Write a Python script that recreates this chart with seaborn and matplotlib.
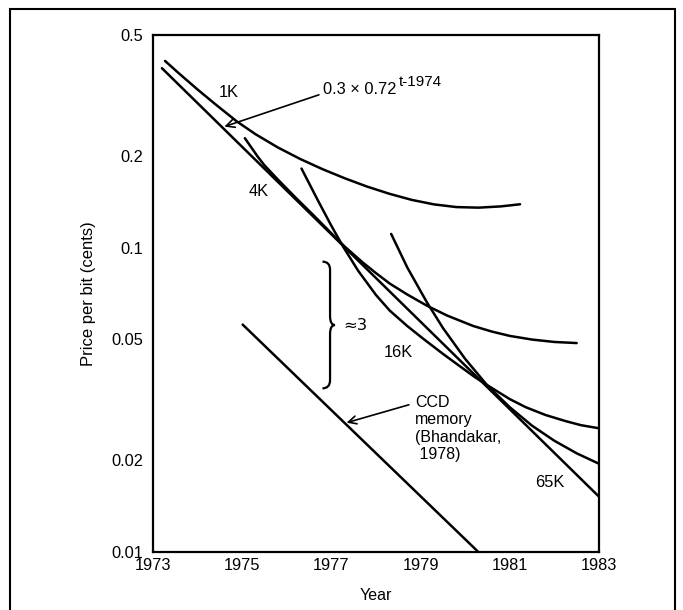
import matplotlib
matplotlib.use("Agg")
import matplotlib.pyplot as plt
import seaborn as sns
import pandas as pd
from matplotlib.path import Path
from matplotlib.patches import PathPatch, Rectangle
from matplotlib.ticker import NullLocator

# values (year, price per bit in cents)
trend_years = [1973.2, 1983.0]
trend_price = [0.389, 0.0152]

k1_years = [1973.27, 1973.6, 1974.0, 1974.4, 1974.88, 1975.3, 1975.8, 1976.3, 1976.8,
            1977.3, 1977.8, 1978.3, 1978.8, 1979.3, 1979.8, 1980.3, 1980.8, 1981.23]
k1_price = [0.411, 0.372, 0.331, 0.296, 0.260, 0.236, 0.2135, 0.1957, 0.1812,
            0.1691, 0.1588, 0.1504, 0.1436, 0.1388, 0.1360, 0.1354, 0.1367, 0.1389]

k4_years = [1975.06, 1975.2, 1975.35, 1975.5, 1975.8, 1976.2, 1976.6, 1977.0, 1977.3,
            1977.7, 1978.0, 1978.31, 1978.7, 1979.14, 1979.6, 1980.18, 1980.6, 1981.0,
            1981.5, 1982.0, 1982.5]
k4_price = [0.229, 0.214, 0.199, 0.1865, 0.1675, 0.146, 0.1278, 0.1115, 0.1008,
            0.0895, 0.0825, 0.0762, 0.0702, 0.0645, 0.0598, 0.0553, 0.0530, 0.0513,
            0.0499, 0.0490, 0.0486]

k16_years = [1976.33, 1976.7, 1977.0, 1977.27, 1977.6, 1978.0, 1978.31, 1978.7, 1979.06,
             1979.5, 1979.81, 1980.2, 1980.5, 1981.0, 1981.36, 1981.8, 1982.26, 1982.6,
             1983.0]
k16_price = [0.182, 0.1428, 0.118, 0.1004, 0.084, 0.0699, 0.0621, 0.0553, 0.0502,
             0.0448, 0.0415, 0.0377, 0.0353, 0.0318, 0.0299, 0.0282, 0.0269, 0.0261,
             0.0255]

k65_years = [1978.34, 1978.7, 1979.14, 1979.5, 1980.0, 1980.5, 1981.0, 1981.5, 1982.0,
             1982.5, 1983.0]
k65_price = [0.111, 0.0862, 0.0662, 0.0545, 0.0431, 0.0352, 0.0299, 0.026, 0.0232,
             0.0211, 0.0195]

ccd_years = [1975.01, 1980.28]
ccd_price = [0.0559, 0.01005]

year_ticks = [1973, 1975, 1977, 1979, 1981, 1983]
price_ticks = [0.01, 0.02, 0.05, 0.1, 0.2, 0.5]
price_tick_labels = ["0.01", "0.02", "0.05", "0.1", "0.2", "0.5"]

curves = {
    "trend": (trend_years, trend_price),
    "1K": (k1_years, k1_price),
    "4K": (k4_years, k4_price),
    "16K": (k16_years, k16_price),
    "65K": (k65_years, k65_price),
    "CCD": (ccd_years, ccd_price),
}
df = pd.concat([pd.DataFrame({"year": yrs, "price": pr, "curve": name})
                for name, (yrs, pr) in curves.items()], ignore_index=True)

sns.set_theme(style="white")
plt.rcParams["font.family"] = ["Liberation Sans", "DejaVu Sans"]
plt.rcParams["text.color"] = "black"
plt.rcParams["axes.labelcolor"] = "black"

fig = plt.figure(figsize=(6.83, 6.10), dpi=100)
ax = fig.add_axes([0.224, 0.0951, 0.653, 0.8475])

sns.lineplot(data=df, x="year", y="price", units="curve", estimator=None,
             sort=False, color="black", linewidth=1.8, ax=ax)

ax.set_yscale("log")
ax.set_xlim(1973, 1983)
ax.set_ylim(0.01, 0.5)
ax.set_yticks(price_ticks)
ax.set_yticklabels(price_tick_labels)
ax.yaxis.set_minor_locator(NullLocator())
ax.set_xticks(year_ticks)
ax.set_xticklabels([str(y) for y in year_ticks])
ax.set_xticks([y + 1 for y in year_ticks[:-1]], minor=True)

ax.tick_params(axis="both", which="major", direction="in", width=1.5,
               labelsize=11.8, colors="black")
ax.tick_params(axis="x", which="major", length=9, pad=4)
ax.tick_params(axis="x", which="minor", direction="in", length=6, width=1.5)
ax.tick_params(axis="y", which="major", length=11, pad=7)
for sp in ax.spines.values():
    sp.set_color("black")
    sp.set_linewidth(1.6)

ax.set_xlabel("Year", fontsize=11.5, labelpad=11)
ax.set_ylabel("Price per bit (cents)", fontsize=12, labelpad=11)

# curve labels
txt = dict(fontsize=11.8, ha="center", va="center")
ax.text(1974.69, 0.323, "1K", **txt)
ax.text(1975.36, 0.153, "4K", **txt)
ax.text(1978.5, 0.0452, "16K", **txt)
ax.text(1981.89, 0.0169, "65K", **txt)

arrow = dict(arrowstyle="->,head_length=0.5,head_width=0.25", lw=1.2,
             color="black", shrinkA=0, shrinkB=0)

# trend formula with its exponent
formula = ax.text(1976.82, 0.33, "0.3 × 0.72", ha="left", va="center", fontsize=11.8)
ax.annotate("t-1974", xy=(1.0, 0.55), xycoords=formula, xytext=(1.5, 0),
            textcoords="offset points", ha="left", va="bottom", fontsize=11)
ax.annotate("", xy=(1974.6, 0.25), xytext=(1976.72, 0.318), arrowprops=arrow)

ax.annotate("CCD\nmemory\n(Bhandakar,\n 1978)", xy=(1977.34, 0.0266),
            xytext=(1978.87, 0.0328), ha="left", va="top", fontsize=11.5,
            linespacing=1.2, arrowprops=dict(arrow, shrinkA=2, relpos=(0.0, 0.88)))

# brace marking the factor of ~3
bx, b_top, b_bot, b_mid = 1976.97, 0.09, 0.0345, 0.0557
verts = [(bx - 0.17, b_top), (bx, b_top), (bx, b_top * 0.94),
         (bx, b_mid * 1.07), (bx, b_mid), (bx + 0.11, b_mid),
         (bx, b_mid), (bx, b_mid / 1.07),
         (bx, b_bot / 0.94), (bx, b_bot), (bx - 0.17, b_bot)]
codes = [Path.MOVETO, Path.CURVE3, Path.CURVE3, Path.LINETO, Path.CURVE3, Path.CURVE3,
         Path.CURVE3, Path.CURVE3, Path.LINETO, Path.CURVE3, Path.CURVE3]
ax.add_patch(PathPatch(Path(verts, codes), fill=False, lw=1.6, ec="black"))
ax.text(1977.53, 0.0557, "≈3", fontsize=11.8, ha="center", va="center",
        family=["DejaVu Sans"])

# frame around the whole figure
fig.add_artist(Rectangle((10 / 683, -0.02), 665 / 683, 1 - 9 / 610 + 0.02,
                         transform=fig.transFigure, fill=False, lw=1.5,
                         ec="black"))

fig.savefig("out.png", dpi=100)
